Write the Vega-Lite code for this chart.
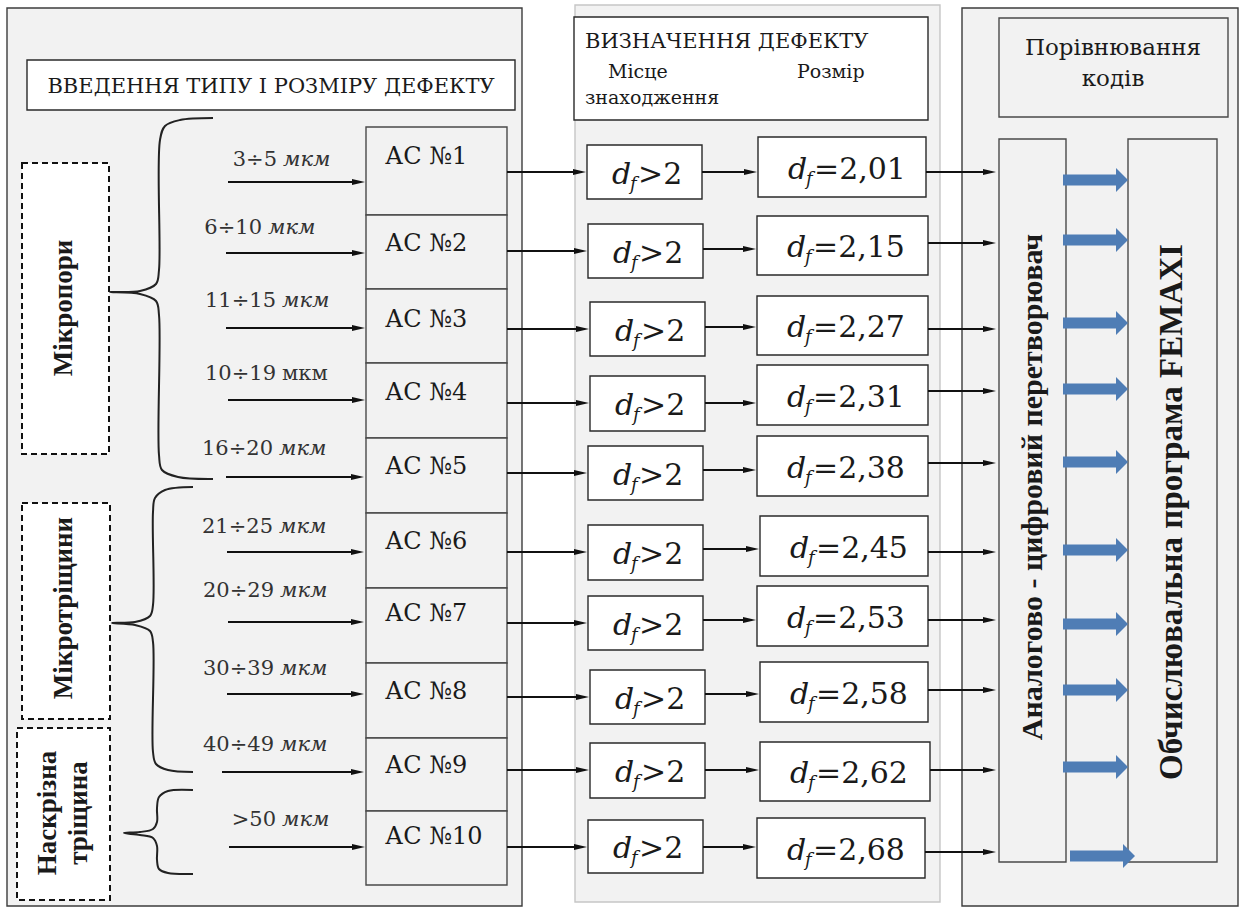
{
"$schema":"https://vega.github.io/schema/vega-lite/v6.json",
"width":1241,"height":909,"padding":0,"autosize":{"type":"none"},
"background":"#ffffff",
"config":{"view":{"stroke":null},"text":{"font":"DejaVu Serif","color":"#1a1a1a"}},
"datasets":{
"boxes":[
{"kind":"panel","x":7,"x2":522,"y":8,"y2":906},
{"kind":"panel2","x":575,"x2":940,"y":5,"y2":902},
{"kind":"panel","x":962,"x2":1238,"y":8,"y2":906},
{"kind":"white","x":27,"x2":515,"y":60,"y2":110},
{"kind":"white","x":574,"x2":928,"y":17,"y2":120},
{"kind":"gray","x":999,"x2":1228,"y":18,"y2":117},
{"kind":"gray","x":999,"x2":1066,"y":139,"y2":862},
{"kind":"gray","x":1128,"x2":1217,"y":139,"y2":862},
{"kind":"gray","x":366,"x2":507,"y":127,"y2":215},
{"kind":"gray","x":366,"x2":507,"y":215,"y2":289},
{"kind":"gray","x":366,"x2":507,"y":289,"y2":363},
{"kind":"gray","x":366,"x2":507,"y":363,"y2":438},
{"kind":"gray","x":366,"x2":507,"y":438,"y2":513},
{"kind":"gray","x":366,"x2":507,"y":513,"y2":588},
{"kind":"gray","x":366,"x2":507,"y":588,"y2":663},
{"kind":"gray","x":366,"x2":507,"y":663,"y2":738},
{"kind":"gray","x":366,"x2":507,"y":738,"y2":811},
{"kind":"gray","x":366,"x2":507,"y":811,"y2":885},
{"kind":"white","x":587,"x2":702,"y":145,"y2":199},
{"kind":"white","x":588,"x2":703,"y":224,"y2":278},
{"kind":"white","x":590,"x2":705,"y":302,"y2":356},
{"kind":"white","x":590,"x2":705,"y":376,"y2":431},
{"kind":"white","x":588,"x2":703,"y":446,"y2":500},
{"kind":"white","x":588,"x2":703,"y":525,"y2":580},
{"kind":"white","x":588,"x2":703,"y":596,"y2":650},
{"kind":"white","x":590,"x2":705,"y":670,"y2":724},
{"kind":"white","x":590,"x2":705,"y":743,"y2":798},
{"kind":"white","x":588,"x2":703,"y":820,"y2":873},
{"kind":"white","x":758,"x2":926,"y":137,"y2":197},
{"kind":"white","x":757,"x2":928,"y":216,"y2":275},
{"kind":"white","x":757,"x2":928,"y":296,"y2":355},
{"kind":"white","x":757,"x2":928,"y":365,"y2":425},
{"kind":"white","x":757,"x2":928,"y":436,"y2":496},
{"kind":"white","x":760,"x2":928,"y":516,"y2":576},
{"kind":"white","x":757,"x2":928,"y":586,"y2":646},
{"kind":"white","x":760,"x2":928,"y":662,"y2":722},
{"kind":"white","x":760,"x2":930,"y":742,"y2":801},
{"kind":"white","x":757,"x2":925,"y":818,"y2":878}
],
"dashed":[
{"x":22,"x2":109,"y":163,"y2":454},
{"x":22,"x2":110,"y":503,"y2":719},
{"x":17,"x2":110,"y":728,"y2":900}
],
"braces":[
{"b":1,"o":1,"x":213,"y":118},{"b":1,"o":2,"x":180,"y":120},{"b":1,"o":3,"x":165,"y":126},{"b":1,"o":4,"x":160,"y":140},{"b":1,"o":5,"x":159,"y":270},{"b":1,"o":6,"x":156,"y":284},{"b":1,"o":7,"x":140,"y":291},{"b":1,"o":8,"x":110,"y":292},{"b":1,"o":9,"x":140,"y":294},{"b":1,"o":10,"x":156,"y":301},{"b":1,"o":11,"x":159,"y":315},{"b":1,"o":12,"x":159,"y":455},{"b":1,"o":13,"x":162,"y":470},{"b":1,"o":14,"x":178,"y":477},{"b":1,"o":15,"x":213,"y":479},
{"b":2,"o":1,"x":193,"y":487},{"b":2,"o":2,"x":165,"y":490},{"b":2,"o":3,"x":155,"y":498},{"b":2,"o":4,"x":153,"y":512},{"b":2,"o":5,"x":153,"y":605},{"b":2,"o":6,"x":150,"y":616},{"b":2,"o":7,"x":135,"y":622},{"b":2,"o":8,"x":112,"y":623},{"b":2,"o":9,"x":135,"y":625},{"b":2,"o":10,"x":150,"y":631},{"b":2,"o":11,"x":153,"y":642},{"b":2,"o":12,"x":153,"y":752},{"b":2,"o":13,"x":156,"y":764},{"b":2,"o":14,"x":168,"y":770},{"b":2,"o":15,"x":193,"y":772},
{"b":3,"o":1,"x":193,"y":790},{"b":3,"o":2,"x":168,"y":791},{"b":3,"o":3,"x":159,"y":797},{"b":3,"o":4,"x":157,"y":808},{"b":3,"o":5,"x":157,"y":822},{"b":3,"o":6,"x":153,"y":829},{"b":3,"o":7,"x":140,"y":832},{"b":3,"o":8,"x":124,"y":833},{"b":3,"o":9,"x":140,"y":835},{"b":3,"o":10,"x":153,"y":838},{"b":3,"o":11,"x":157,"y":846},{"b":3,"o":12,"x":157,"y":860},{"b":3,"o":13,"x":159,"y":869},{"b":3,"o":14,"x":168,"y":873},{"b":3,"o":15,"x":193,"y":874}
],
"arrows":[
{"x":228,"x2":365,"y":182},{"x":226,"x2":365,"y":253},{"x":226,"x2":365,"y":328},{"x":228,"x2":365,"y":400},{"x":226,"x2":364,"y":477},{"x":227,"x2":364,"y":552},{"x":228,"x2":364,"y":622},{"x":227,"x2":364,"y":694},{"x":222,"x2":364,"y":772},{"x":229,"x2":365,"y":847},
{"x":507,"x2":586,"y":172},{"x":507,"x2":587,"y":251},{"x":507,"x2":589,"y":329},{"x":507,"x2":589,"y":403},{"x":507,"x2":587,"y":473},{"x":507,"x2":587,"y":552},{"x":507,"x2":587,"y":623},{"x":507,"x2":589,"y":697},{"x":507,"x2":589,"y":770},{"x":507,"x2":587,"y":847},
{"x":702,"x2":757,"y":172},{"x":703,"x2":756,"y":249},{"x":705,"x2":756,"y":327},{"x":705,"x2":756,"y":403},{"x":703,"x2":756,"y":470},{"x":703,"x2":759,"y":549},{"x":703,"x2":756,"y":620},{"x":705,"x2":759,"y":694},{"x":705,"x2":759,"y":770},{"x":703,"x2":756,"y":847},
{"x":926,"x2":996,"y":172},{"x":928,"x2":996,"y":243},{"x":928,"x2":996,"y":329},{"x":928,"x2":996,"y":391},{"x":928,"x2":996,"y":463},{"x":928,"x2":996,"y":552},{"x":928,"x2":996,"y":620},{"x":928,"x2":996,"y":690},{"x":930,"x2":996,"y":770},{"x":925,"x2":996,"y":852}
],
"blue":[
{"x":1063,"x2":1128,"y":180},{"x":1063,"x2":1128,"y":240},{"x":1063,"x2":1128,"y":323},{"x":1063,"x2":1128,"y":389},{"x":1063,"x2":1128,"y":462},{"x":1063,"x2":1128,"y":550},{"x":1063,"x2":1128,"y":624},{"x":1063,"x2":1128,"y":690},{"x":1063,"x2":1128,"y":767},{"x":1070,"x2":1135,"y":856}
],
"hdr":[
{"t":"ВВЕДЕННЯ ТИПУ І РОЗМІРУ ДЕФЕКТУ","x":271,"y":93}
],
"hdr3":[
{"t":"Порівнювання","x":1113,"y":55},{"t":"кодів","x":1113,"y":86}
],
"hdr2":[
{"t":"ВИЗНАЧЕННЯ ДЕФЕКТУ","x":585,"y":48}
],
"sub":[
{"t":"Місце","x":608,"y":78},{"t":"Розмір","x":797,"y":78},{"t":"знаходження","x":585,"y":104}
],
"ac":[
{"t":"АС №1","x":385,"y":164},{"t":"АС №2","x":385,"y":251},{"t":"АС №3","x":385,"y":327},{"t":"АС №4","x":385,"y":400},{"t":"АС №5","x":385,"y":474},{"t":"АС №6","x":385,"y":549},{"t":"АС №7","x":385,"y":621},{"t":"АС №8","x":385,"y":699},{"t":"АС №9","x":385,"y":773},{"t":"АС №10","x":385,"y":844}
],
"rng":[
{"num":"3÷5","unit":"мкм","ux":283,"y":166},
{"num":"6÷10","unit":"мкм","ux":268,"y":234},
{"num":"11÷15","unit":"мкм","ux":282,"y":307},
{"num":"16÷20","unit":"мкм","ux":279,"y":455},
{"num":"21÷25","unit":"мкм","ux":279,"y":533},
{"num":"20÷29","unit":"мкм","ux":280,"y":597},
{"num":"30÷39","unit":"мкм","ux":280,"y":675},
{"num":"40÷49","unit":"мкм","ux":280,"y":751},
{"num":">50","unit":"мкм","ux":282,"y":826}
],
"rngU":[
{"num":"10÷19","unit":"мкм","ux":282,"y":380}
],
"df":[
{"x":612,"y":184,"rest":">2"},{"x":613,"y":263,"rest":">2"},{"x":615,"y":341,"rest":">2"},{"x":615,"y":415,"rest":">2"},{"x":613,"y":485,"rest":">2"},{"x":613,"y":564,"rest":">2"},{"x":613,"y":635,"rest":">2"},{"x":615,"y":709,"rest":">2"},{"x":615,"y":782,"rest":">2"},{"x":613,"y":858,"rest":">2"},
{"x":788,"y":179,"rest":"=2,01"},{"x":787,"y":257,"rest":"=2,15"},{"x":787,"y":337,"rest":"=2,27"},{"x":787,"y":407,"rest":"=2,31"},{"x":787,"y":478,"rest":"=2,38"},{"x":790,"y":558,"rest":"=2,45"},{"x":787,"y":628,"rest":"=2,53"},{"x":790,"y":704,"rest":"=2,58"},{"x":790,"y":783,"rest":"=2,62"},{"x":787,"y":860,"rest":"=2,68"}
],
"rotL":[
{"t":"Мікропори","x":64,"y":308},{"t":"Мікротріщини","x":64,"y":608},{"t":"Наскрізна","x":48,"y":813},{"t":"тріщина","x":79,"y":813}
],
"rotA":[
{"t":"Аналогово - цифровий перетворювач","x":1033,"y":487}
],
"rotF":[
{"t":"Обчислювальна програма FEMAXI","x":1172,"y":512}
]
},
"encoding":{
"x":{"field":"x","type":"quantitative","scale":{"domain":[0,1241],"nice":false,"zero":false},"axis":null},
"y":{"field":"y","type":"quantitative","scale":{"domain":[0,909],"nice":false,"zero":false,"reverse":true},"axis":null}
},
"layer":[
{"data":{"name":"boxes"},"mark":{"type":"rect","strokeWidth":1.4},
 "encoding":{"x2":{"field":"x2"},"y2":{"field":"y2"},
  "fill":{"field":"kind","type":"nominal","scale":{"domain":["panel","panel2","gray","white"],"range":["#f2f2f2","#f2f2f2","#f2f2f2","#ffffff"]},"legend":null},
  "stroke":{"field":"kind","type":"nominal","scale":{"domain":["panel","panel2","gray","white"],"range":["#3c3c3c","#c6c6c6","#4a4a4a","#2a2a2a"]},"legend":null}}},
{"data":{"name":"dashed"},"mark":{"type":"rect","fill":"#ffffff","stroke":"#111111","strokeWidth":2,"strokeDash":[6,4]},
 "encoding":{"x2":{"field":"x2"},"y2":{"field":"y2"}}},
{"data":{"name":"braces"},"mark":{"type":"line","interpolate":"catmull-rom","stroke":"#222222","strokeWidth":2},
 "encoding":{"detail":{"field":"b","type":"nominal"},"order":{"field":"o","type":"quantitative"}}},
{"data":{"name":"arrows"},"mark":{"type":"rule","stroke":"#111111","strokeWidth":2,"x2Offset":-8},
 "encoding":{"x2":{"field":"x2"}}},
{"data":{"name":"arrows"},"mark":{"type":"point","shape":"M-1,-0.45L1,0L-1,0.45Z","filled":true,"size":169,"color":"#111111","opacity":1,"xOffset":-6.5},
 "encoding":{"x":{"field":"x2","type":"quantitative","scale":{"domain":[0,1241],"nice":false,"zero":false},"axis":null}}},
{"data":{"name":"blue"},"mark":{"type":"rule","stroke":"#4f7db5","strokeWidth":11,"x2Offset":-11},
 "encoding":{"x2":{"field":"x2"}}},
{"data":{"name":"blue"},"mark":{"type":"point","shape":"M-0.5,-1L0.5,0L-0.5,1Z","filled":true,"size":576,"color":"#4f7db5","opacity":1,"xOffset":-6},
 "encoding":{"x":{"field":"x2","type":"quantitative","scale":{"domain":[0,1241],"nice":false,"zero":false},"axis":null}}},
{"data":{"name":"hdr"},"mark":{"type":"text","font":"DejaVu Serif","fontSize":21,"align":"center","baseline":"alphabetic"},
 "encoding":{"text":{"field":"t"}}},
{"data":{"name":"hdr3"},"mark":{"type":"text","font":"DejaVu Serif","fontSize":23,"align":"center","baseline":"alphabetic"},
 "encoding":{"text":{"field":"t"}}},
{"data":{"name":"hdr2"},"mark":{"type":"text","font":"DejaVu Serif","fontSize":21,"align":"left","baseline":"alphabetic"},
 "encoding":{"text":{"field":"t"}}},
{"data":{"name":"sub"},"mark":{"type":"text","font":"DejaVu Serif","fontSize":19,"align":"left","baseline":"alphabetic"},
 "encoding":{"text":{"field":"t"}}},
{"data":{"name":"ac"},"mark":{"type":"text","font":"DejaVu Serif","fontSize":24,"align":"left","baseline":"alphabetic"},
 "encoding":{"text":{"field":"t"}}},
{"data":{"name":"rng"},"mark":{"type":"text","font":"DejaVu Serif","fontSize":21,"align":"right","baseline":"alphabetic","color":"#333333","dx":-6},
 "encoding":{"x":{"field":"ux","type":"quantitative","scale":{"domain":[0,1241],"nice":false,"zero":false},"axis":null},"text":{"field":"num"}}},
{"data":{"name":"rng"},"mark":{"type":"text","font":"DejaVu Serif","fontSize":21,"fontStyle":"italic","align":"left","baseline":"alphabetic","color":"#333333"},
 "encoding":{"x":{"field":"ux","type":"quantitative","scale":{"domain":[0,1241],"nice":false,"zero":false},"axis":null},"text":{"field":"unit"}}},
{"data":{"name":"rngU"},"mark":{"type":"text","font":"DejaVu Serif","fontSize":21,"align":"right","baseline":"alphabetic","color":"#333333","dx":-6},
 "encoding":{"x":{"field":"ux","type":"quantitative","scale":{"domain":[0,1241],"nice":false,"zero":false},"axis":null},"text":{"field":"num"}}},
{"data":{"name":"rngU"},"mark":{"type":"text","font":"DejaVu Serif","fontSize":21,"align":"left","baseline":"alphabetic","color":"#333333"},
 "encoding":{"x":{"field":"ux","type":"quantitative","scale":{"domain":[0,1241],"nice":false,"zero":false},"axis":null},"text":{"field":"unit"}}},
{"data":{"name":"df"},"mark":{"type":"text","font":"DejaVu Serif","fontSize":30,"fontStyle":"italic","align":"left","baseline":"alphabetic","text":"d"},
 "encoding":{}},
{"data":{"name":"df"},"mark":{"type":"text","font":"DejaVu Serif","fontSize":18,"fontStyle":"italic","align":"left","baseline":"alphabetic","text":"f","dx":18,"dy":6},
 "encoding":{}},
{"data":{"name":"df"},"mark":{"type":"text","font":"DejaVu Serif","fontSize":30,"align":"left","baseline":"alphabetic","dx":26},
 "encoding":{"text":{"field":"rest"}}},
{"data":{"name":"rotL"},"mark":{"type":"text","font":"Liberation Serif","fontSize":27,"fontWeight":"bold","angle":270,"align":"center","baseline":"middle"},
 "encoding":{"text":{"field":"t"}}},
{"data":{"name":"rotA"},"mark":{"type":"text","font":"Liberation Serif","fontSize":30,"fontWeight":"bold","angle":270,"align":"center","baseline":"middle"},
 "encoding":{"text":{"field":"t"}}},
{"data":{"name":"rotF"},"mark":{"type":"text","font":"Liberation Serif","fontSize":33,"fontWeight":"bold","angle":270,"align":"center","baseline":"middle"},
 "encoding":{"text":{"field":"t"}}}
]
}
